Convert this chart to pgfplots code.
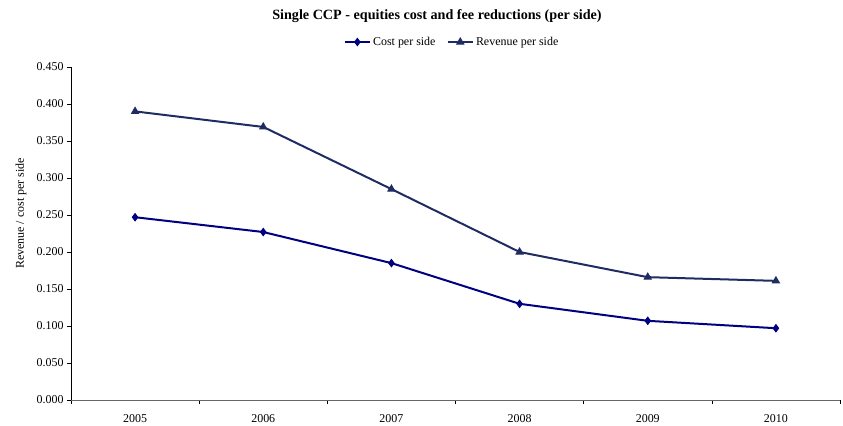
\documentclass[border=0pt]{standalone}
\usepackage{pgfplots}
\pgfplotsset{compat=1.18}
\usepackage{fontspec}
\setmainfont{Liberation Serif}
\definecolor{costc}{HTML}{000080}
\definecolor{revc}{HTML}{1F2C63}
\begin{document}
\begin{tikzpicture}
\begin{axis}[
  scale only axis,
  width=769bp, height=333bp,
  xmin=-0.5, xmax=5.5, ymin=0, ymax=0.45,
  axis x line*=bottom, axis y line*=left,
  x axis line style={gray!80!black, line width=0.8bp},
  y axis line style={black, line width=0.8bp},
  xtick={0,...,5},
  xticklabels={2005,2006,2007,2008,2009,2010},
  minor xtick={-0.5,0.5,...,5.5},
  major x tick style={draw=none},
  minor x tick style={black, line width=0.6bp},
  minor tick length=4bp,
  ytick={0,0.05,...,0.451},
  major tick length=4bp,
  tick align=outside,
  y tick style={black, line width=0.6bp},
  /pgf/number format/assume math mode=true,
  yticklabel style={/pgf/number format/.cd, fixed, fixed zerofill, precision=3},
  ticklabel style={font=\fontsize{12}{14}\selectfont},
  xticklabel style={yshift=-7bp},
  ylabel={Revenue / cost per side},
  ylabel style={font=\fontsize{12}{14}\selectfont, at={(axis description cs:-0.065,0.56)}, anchor=center},
  legend style={draw=none, font=\fontsize{12}{14}\selectfont, at={(axis description cs:0.4954,1.075)}, anchor=center, legend columns=2, /tikz/every even column/.append style={column sep=9bp}, inner sep=0pt},
  legend image code/.code={\draw[mark repeat=2,mark phase=2,#1] plot coordinates {(0cm,0cm) (0.45cm,0cm) (0.9cm,0cm)};},
  clip=false,
]
\coordinate (o) at (rel axis cs:0,0);
\addplot[costc, line width=2bp, mark=diamond*, mark size=3.6bp, mark options={solid, fill=costc, line width=1bp}] coordinates {
 (0,0.247) (1,0.227) (2,0.185) (3,0.130) (4,0.107) (5,0.097)};
\addlegendentry{Cost per side}
\addplot[revc, line width=2bp, mark=triangle*, mark size=4bp, mark options={solid, fill=revc, line width=1bp}] coordinates {
 (0,0.390) (1,0.369) (2,0.285) (3,0.200) (4,0.166) (5,0.161)};
\addlegendentry{Revenue per side}
\end{axis}
\node[font=\bfseries\fontsize{14.2}{16}\selectfont, anchor=center] at ([xshift=366bp,yshift=384bp]o) {Single CCP - equities cost and fee reductions (per side)};
\path[use as bounding box] ([xshift=-71bp,yshift=-24bp]o) rectangle ([xshift=772bp,yshift=400bp]o);
\end{tikzpicture}
\end{document}
